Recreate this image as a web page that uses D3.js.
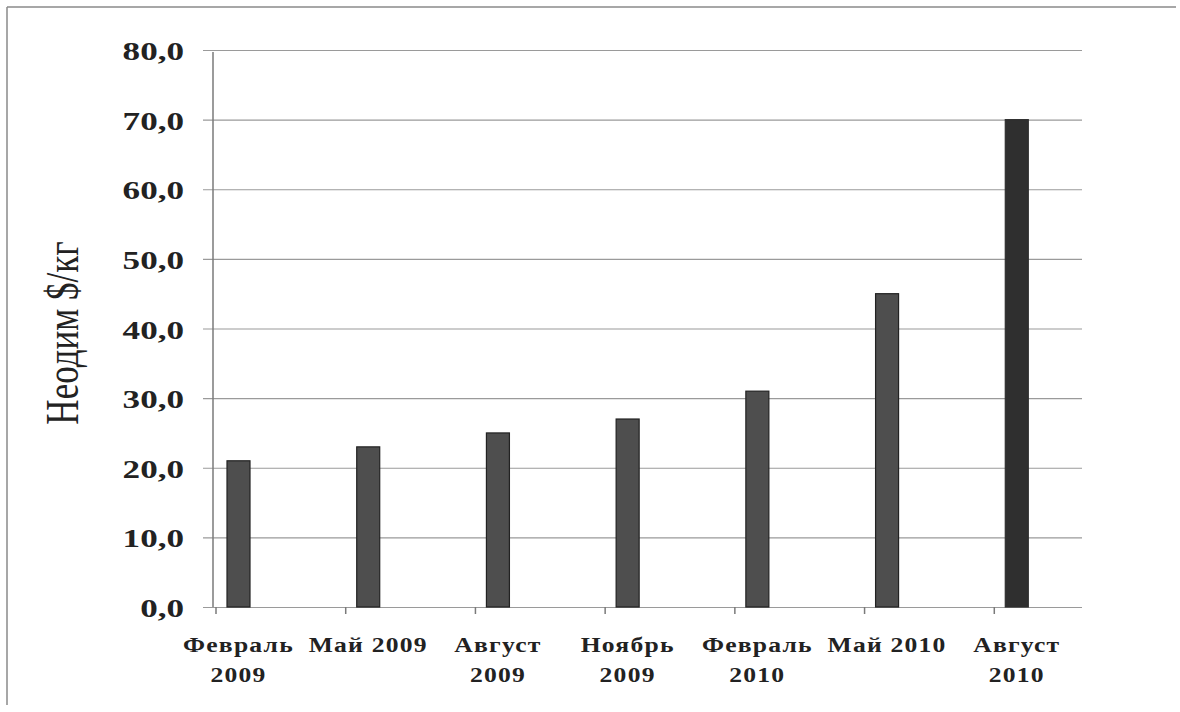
<!DOCTYPE html>
<html>
<head>
<meta charset="utf-8">
<script src="https://cdn.jsdelivr.net/npm/d3@7/dist/d3.min.js"></script>
<style>
  html, body { margin: 0; padding: 0; background: #fff; }
  svg { display: block; }
  text { font-family: "Liberation Serif", "Times New Roman", serif; fill: #222; }
</style>
</head>
<body>
<svg id="chart" width="1180" height="712"></svg>
<script>
// Neodymium price, $/kg, quarterly
const categories = [
  ["Февраль", "2009"],
  ["Май 2009"],
  ["Август", "2009"],
  ["Ноябрь", "2009"],
  ["Февраль", "2010"],
  ["Май 2010"],
  ["Август", "2010"]
];
const prices = [21, 23, 25, 27, 31, 45, 70];
const yTicks = [0, 10, 20, 30, 40, 50, 60, 70, 80];
const yTitle = "Неодим $/кг";

const svg = d3.select("#chart");
const W = 1180, H = 712;

const plot = { left: 213, right: 1082, top: 50, bottom: 607 };
const keys = categories.map(c => c.join(" "));

const x = d3.scaleBand().domain(keys).range([216, 1124]);
const y = d3.scaleLinear().domain([0, 80]).range([plot.bottom, plot.top]);
const fmt = v => d3.format(".1f")(v).replace(".", ",");

// frame lines (top and left)
svg.append("line").attr("x1", 7).attr("x2", W - 4).attr("y1", 7).attr("y2", 7)
  .attr("stroke", "#8a8a8a").attr("stroke-width", 1.5);
svg.append("line").attr("x1", 7).attr("x2", 7).attr("y1", 7).attr("y2", 705)
  .attr("stroke", "#8a8a8a").attr("stroke-width", 1.5);

// horizontal gridlines with left tick stubs
const yAxis = d3.axisLeft(y).tickValues(yTicks)
  .tickSize(-(plot.right - 203)).tickFormat("");
svg.append("g").attr("transform", `translate(203,0)`)
  .call(g => {
    g.call(d3.axisRight(y).tickValues(yTicks).tickSize(plot.right - 203).tickFormat(""));
    g.select(".domain").remove();
    g.selectAll(".tick line").attr("stroke", "#9a9a9a").attr("stroke-width", 1.2);
  });

// vertical axis line
svg.append("line").attr("x1", plot.left).attr("x2", plot.left)
  .attr("y1", plot.top + 2).attr("y2", plot.bottom)
  .attr("stroke", "#7a7a7a").attr("stroke-width", 1.5);

// y tick labels
svg.append("g").selectAll("text").data(yTicks).join("text")
  .attr("transform", d => `translate(184,${y(d) + 10}) scale(1.35,1)`)
  .attr("text-anchor", "end")
  .attr("font-size", 26).attr("font-weight", "bold")
  .text(fmt);

// category ticks below the baseline
svg.append("g").selectAll("line").data(keys).join("line")
  .attr("x1", d => x(d)).attr("x2", d => x(d))
  .attr("y1", plot.bottom).attr("y2", plot.bottom + 7)
  .attr("stroke", "#7a7a7a").attr("stroke-width", 1.5);

// bars
const barOffset = 11, barWidth = 23;
svg.append("g").selectAll("rect").data(prices).join("rect")
  .attr("x", (d, i) => x(keys[i]) + barOffset)
  .attr("width", barWidth)
  .attr("y", d => y(d))
  .attr("height", d => y(0) - y(d))
  .attr("fill", (d, i) => i === prices.length - 1 ? "#2f2f2f" : "#4e4e4e")
  .attr("stroke", (d, i) => i === prices.length - 1 ? "#2f2f2f" : "#222")
  .attr("stroke-width", 1.2);

// category labels, centred under each bar
const labels = svg.append("g").selectAll("g").data(categories).join("g")
  .attr("transform", (d, i) => `translate(${x(keys[i]) + barOffset + barWidth / 2},0)`);
labels.each(function(lines) {
  const g = d3.select(this);
  lines.forEach((t, j) => {
    g.append("text")
      .attr("transform", `translate(0,${652 + j * 30}) scale(1.22,1)`)
      .attr("text-anchor", "middle")
      .attr("font-size", 21).attr("font-weight", "bold")
      .attr("letter-spacing", 1)
      .text(t);
  });
});

// y axis title
svg.append("text")
  .attr("transform", `translate(78,333) rotate(-90) scale(1,1.3)`)
  .attr("text-anchor", "middle")
  .attr("font-size", 35)
  .text(yTitle);
</script>
</body>
</html>
